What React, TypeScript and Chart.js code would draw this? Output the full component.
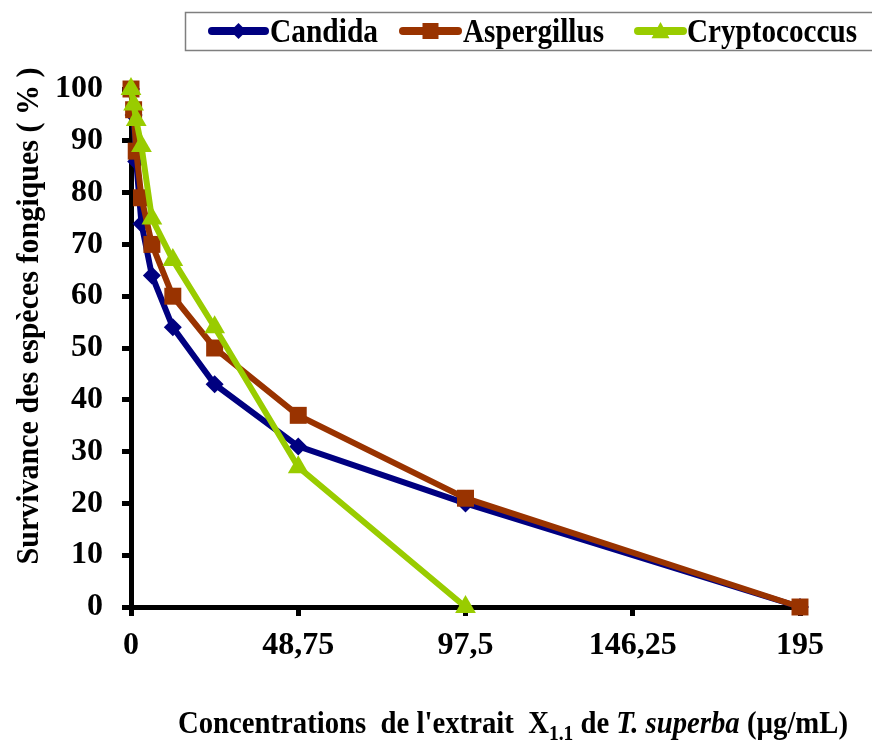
import { useEffect, useRef } from 'react';
import { Chart, registerables } from 'chart.js';

Chart.register(...registerables);

const concentrations = [0, 0.76, 1.52, 3.05, 6.09, 12.19, 24.38, 48.75, 97.5, 195];
const candida = [100, 95, 86, 74, 64, 54, 43, 31, 20, 0];
const aspergillus = [100, 96, 88, 79, 70, 60, 50, 37, 21, 0];
const cryptoConcentrations = [0, 0.76, 1.52, 3.05, 6.09, 12.19, 24.38, 48.75, 97.5];
const cryptococcus = [100, 97, 94, 89, 75, 67, 54, 27, 0];
const xTicks = [0, 48.75, 97.5, 146.25, 195];
const seriesNames = ['Candida', 'Aspergillus', 'Cryptococcus'];
const seriesColors = ['#000080', '#993300', '#99CC00'];
const yTitle = 'Survivance des espèces fongiques ( % )';

const FONT = 'Liberation Serif, Times New Roman, serif';

function drawMarker(ctx: CanvasRenderingContext2D, kind: number, x: number, y: number, r: number, color: string) {
  ctx.fillStyle = color;
  ctx.beginPath();
  if (kind === 0) {
    ctx.moveTo(x, y - r);
    ctx.lineTo(x + r, y);
    ctx.lineTo(x, y + r);
    ctx.lineTo(x - r, y);
  } else if (kind === 1) {
    ctx.rect(x - r, y - r, 2 * r, 2 * r);
  } else {
    ctx.moveTo(x, y - r);
    ctx.lineTo(x + r, y + r * 0.8);
    ctx.lineTo(x - r, y + r * 0.8);
  }
  ctx.closePath();
  ctx.fill();
}

const overlay = {
  id: 'overlay',
  afterDraw(chart: any) {
    const ctx: CanvasRenderingContext2D = chart.ctx;
    ctx.save();
    // Legend box
    ctx.strokeStyle = '#7f7f7f';
    ctx.lineWidth = 1.5;
    ctx.strokeRect(185.5, 12.5, 720, 38);
    const items = [
      { x1: 212, x2: 265, tx: 270, w: 108 },
      { x1: 403, x2: 458, tx: 463, w: 141 },
      { x1: 638, x2: 683, tx: 687, w: 170 },
    ];
    items.forEach((it, i) => {
      ctx.strokeStyle = seriesColors[i];
      ctx.lineWidth = 8;
      ctx.lineCap = 'round';
      ctx.beginPath();
      ctx.moveTo(it.x1, 31);
      ctx.lineTo(it.x2, 31);
      ctx.stroke();
      drawMarker(ctx, i, (it.x1 + it.x2) / 2, 31, i === 2 ? 9 : 8, seriesColors[i]);
      ctx.font = `bold 34px ${FONT}`;
      ctx.fillStyle = '#000';
      ctx.textBaseline = 'alphabetic';
      ctx.textAlign = 'left';
      const mw = ctx.measureText(seriesNames[i]).width;
      ctx.save();
      ctx.translate(it.tx, 42);
      ctx.scale(it.w / mw, 1);
      ctx.fillText(seriesNames[i], 0, 0);
      ctx.restore();
    });

    // Y title
    ctx.save();
    ctx.font = `bold 32px ${FONT}`;
    ctx.fillStyle = '#000';
    const yw = ctx.measureText(yTitle).width;
    ctx.translate(38, 316);
    ctx.rotate(-Math.PI / 2);
    ctx.scale(497 / yw, 1);
    ctx.textAlign = 'center';
    ctx.textBaseline = 'alphabetic';
    ctx.fillText(yTitle, 0, 0);
    ctx.restore();

    // X title with subscript and italics
    const parts = [
      { t: "Concentrations  de l'extrait  X", f: `bold 31px ${FONT}`, dy: 0 },
      { t: '1.1', f: `bold 21px ${FONT}`, dy: 7 },
      { t: ' de ', f: `bold 31px ${FONT}`, dy: 0 },
      { t: 'T. superba', f: `italic bold 31px ${FONT}`, dy: 0 },
      { t: ' (µg/mL)', f: `bold 31px ${FONT}`, dy: 0 },
    ];
    let total = 0;
    const widths = parts.map((p) => {
      ctx.font = p.f;
      const w = ctx.measureText(p.t).width;
      total += w;
      return w;
    });
    ctx.save();
    ctx.translate(178, 733);
    ctx.scale(670 / total, 1);
    let cx = 0;
    ctx.fillStyle = '#000';
    ctx.textAlign = 'left';
    ctx.textBaseline = 'alphabetic';
    parts.forEach((p, i) => {
      ctx.font = p.f;
      ctx.fillText(p.t, cx, p.dy);
      cx += widths[i];
    });
    ctx.restore();
    ctx.restore();
  },
};

export default function App() {
  const ref = useRef<HTMLCanvasElement>(null);
  useEffect(() => {
    if (!ref.current) return;
    const tickFont = { family: FONT, size: 32, weight: 'bold' as const };
    const mk = (xs: number[], ys: number[]) => xs.map((x, i) => ({ x, y: ys[i] }));
    const chart = new Chart(ref.current, {
      type: 'line',
      data: {
        datasets: [
          {
            label: seriesNames[0],
            data: mk(concentrations, candida),
            borderColor: seriesColors[0],
            backgroundColor: seriesColors[0],
            borderWidth: 6,
            pointStyle: 'rectRot',
            pointRadius: 9,
            pointBorderWidth: 0,
            order: 3,
            clip: false,
            tension: 0,
          },
          {
            label: seriesNames[1],
            data: mk(concentrations, aspergillus),
            borderColor: seriesColors[1],
            backgroundColor: seriesColors[1],
            borderWidth: 6,
            pointStyle: 'rect',
            pointRadius: 12,
            pointBorderWidth: 0,
            order: 2,
            clip: false,
            tension: 0,
          },
          {
            label: seriesNames[2],
            data: mk(cryptoConcentrations, cryptococcus),
            borderColor: seriesColors[2],
            backgroundColor: seriesColors[2],
            borderWidth: 6,
            pointStyle: 'triangle',
            pointRadius: 12,
            pointBorderWidth: 0,
            order: 1,
            clip: false,
            tension: 0,
          },
        ],
      },
      options: {
        animation: false,
        responsive: false,
        devicePixelRatio: 1,
        layout: { padding: { top: 89, right: 72, left: 0, bottom: 0 } },
        plugins: { legend: { display: false }, tooltip: { enabled: false } },
        scales: {
          x: {
            type: 'linear',
            min: 0,
            max: 195,
            afterBuildTicks: (s: any) => {
              s.ticks = xTicks.map((v) => ({ value: v }));
            },
            afterFit: (s: any) => {
              s.height = 135;
            },
            ticks: {
              font: tickFont,
              color: '#000',
              padding: 11,
              autoSkip: false,
              maxRotation: 0,
              callback: (v: any) => String(v).replace('.', ','),
            },
            grid: { drawOnChartArea: false, drawTicks: true, tickLength: 9, tickWidth: 5, tickColor: '#000', color: '#000' },
            border: { display: true, color: '#000', width: 5 },
          },
          y: {
            min: 0,
            max: 100,
            afterFit: (s: any) => {
              s.width = 131;
            },
            ticks: { stepSize: 10, font: tickFont, color: '#000', padding: 19 },
            grid: { drawOnChartArea: false, drawTicks: true, tickLength: 9, tickWidth: 5, tickColor: '#000', color: '#000' },
            border: { display: true, color: '#000', width: 5 },
          },
        },
      },
      plugins: [overlay],
    });
    return () => chart.destroy();
  }, []);
  return (
    <div style={{ position: 'absolute', left: 0, top: 0, width: 872, height: 742, background: '#fff' }}>
      <canvas ref={ref} width={872} height={742} style={{ display: 'block' }} />
    </div>
  );
}
